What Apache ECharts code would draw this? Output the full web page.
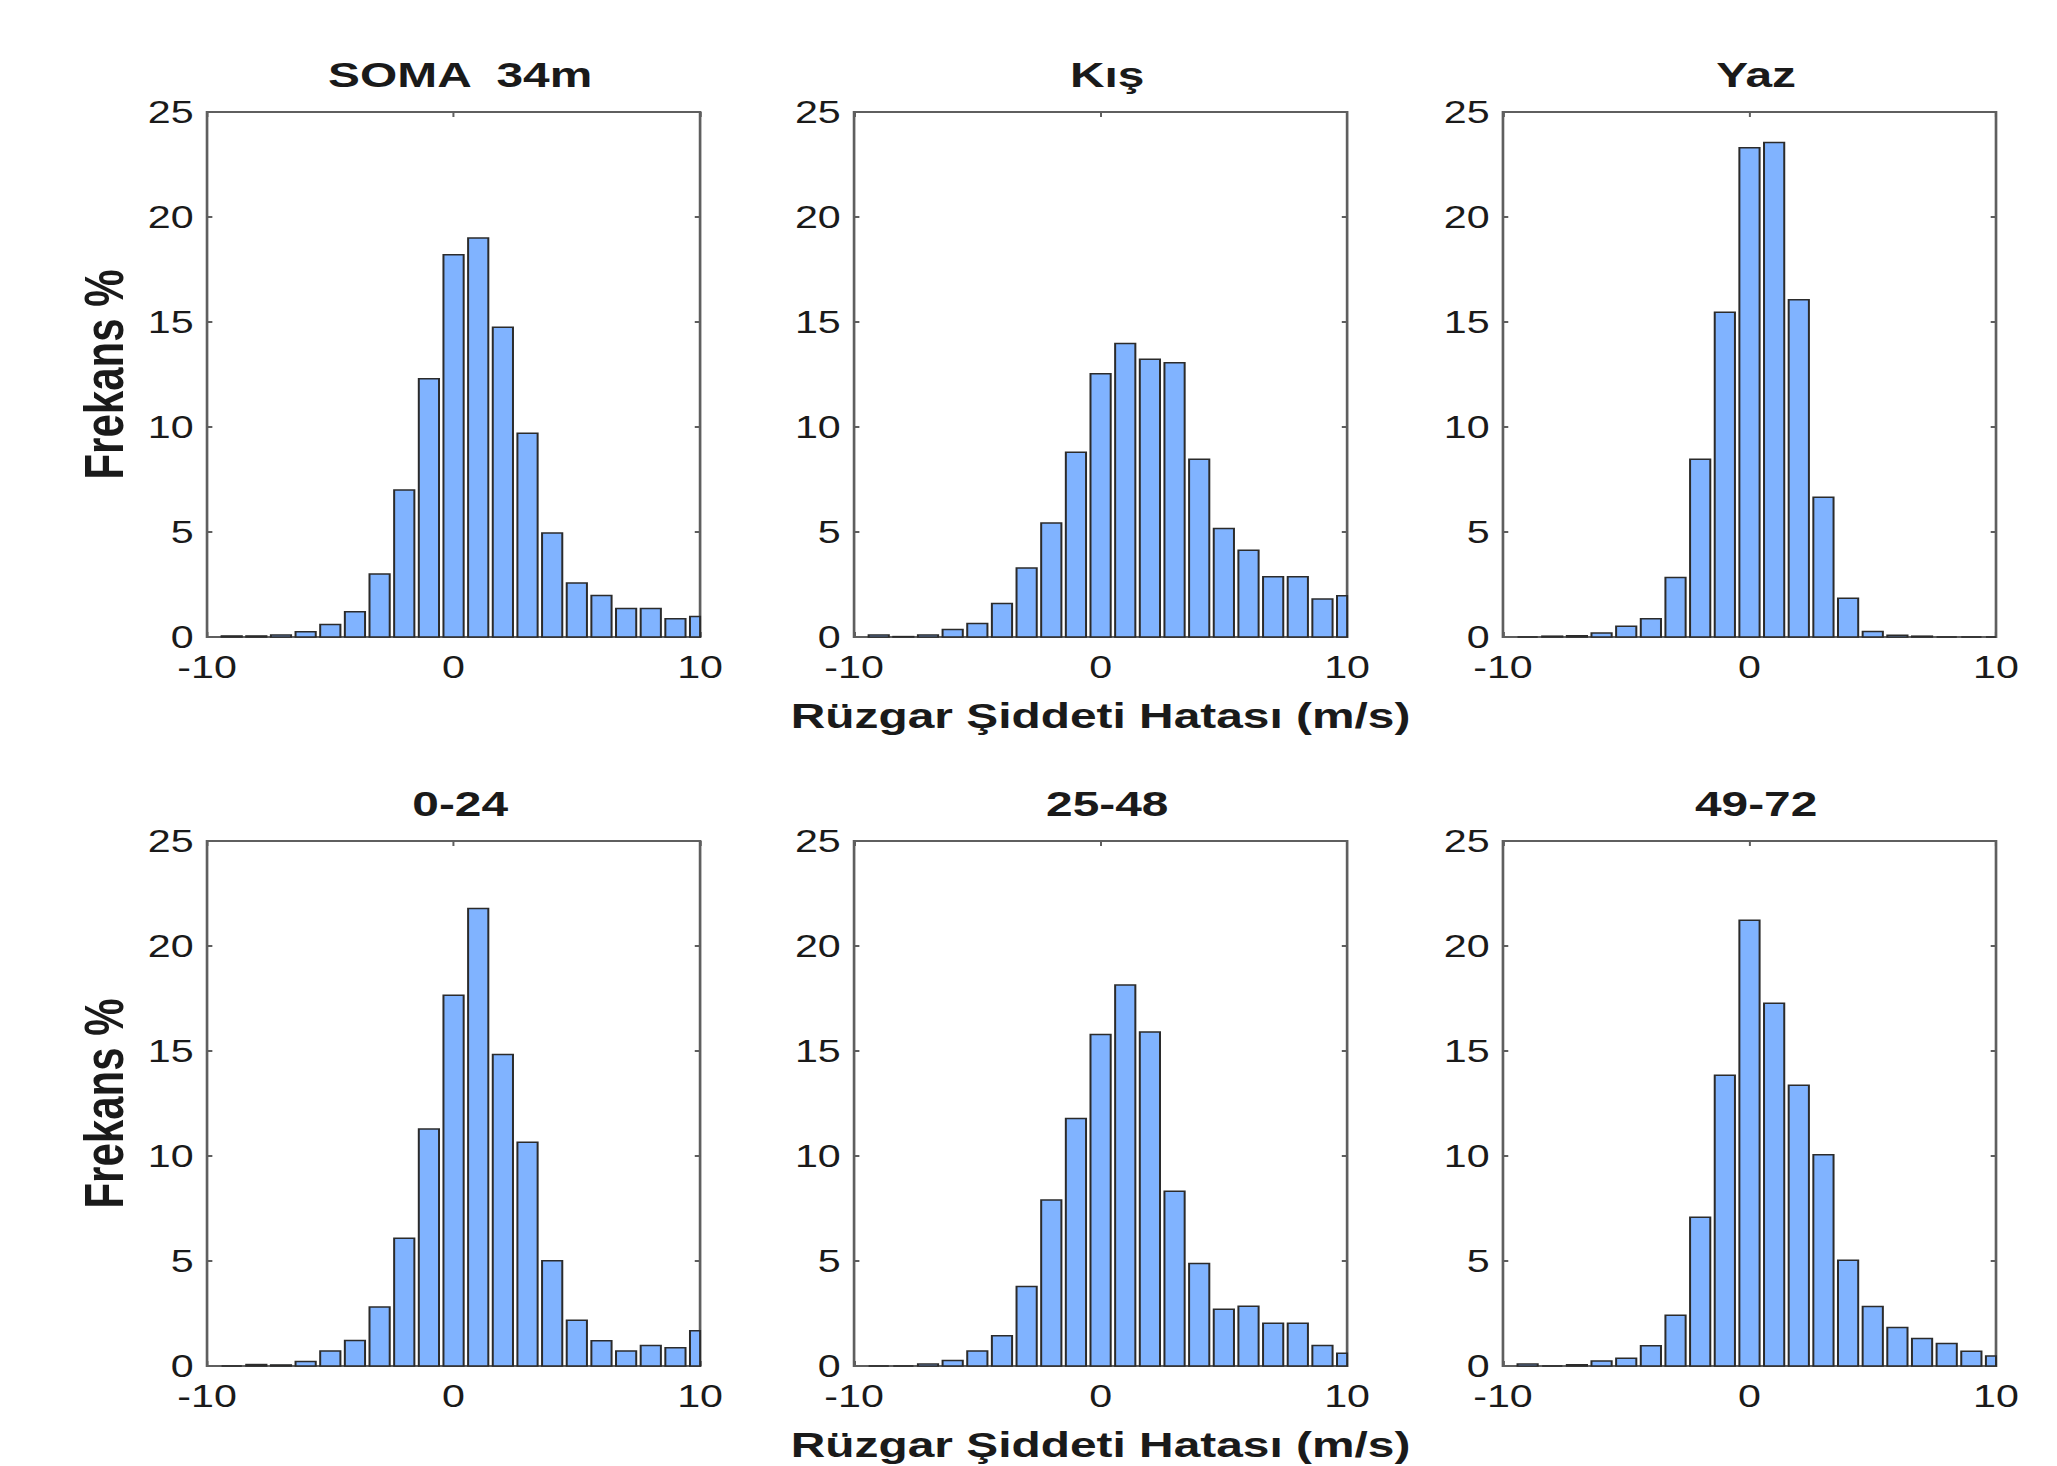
<!DOCTYPE html>
<html>
<head>
<meta charset="utf-8">
<title>Rüzgar Şiddeti Hatası</title>
<script src="https://cdn.jsdelivr.net/npm/echarts@6/dist/echarts.min.js"></script>
<style>
    html, body { margin: 0; padding: 0; background: #fff; overflow: hidden; }
    /* the original figure is stretched sideways, so draw narrower and widen it */
    #chart { width: 1547px; height: 1466px; transform: scaleX(1.3297); transform-origin: 0 0; }
</style>
</head>
<body>
<div id="chart"></div>
<script>
// bin centres (m/s)
const bins = [-9, -8, -7, -6, -5, -4, -3, -2, -1, 0, 1, 2, 3, 4, 5, 6, 7, 8, 9, 10]

// frequency % per bin
const soma34 = [0.05, 0.05, 0.1, 0.25, 0.6, 1.2, 3.0, 7.0, 12.3, 18.2, 19.0, 14.75, 9.7, 4.95, 2.57, 1.98, 1.36, 1.36, 0.87, 0.98]
const kis = [0.1, 0.02, 0.1, 0.36, 0.64, 1.6, 3.28, 5.43, 8.8, 12.53, 13.98, 13.23, 13.06, 8.47, 5.17, 4.13, 2.87, 2.87, 1.81, 1.96]
const yaz = [0, 0.04, 0.06, 0.19, 0.51, 0.87, 2.83, 8.47, 15.47, 23.3, 23.55, 16.06, 6.66, 1.85, 0.26, 0.08, 0.04, 0, 0, 0]
const h0_24 = [0, 0.07, 0.05, 0.22, 0.72, 1.22, 2.81, 6.08, 11.28, 17.66, 21.78, 14.83, 10.65, 5.01, 2.18, 1.2, 0.72, 0.98, 0.87, 1.68]
const h25_48 = [0, 0, 0.09, 0.26, 0.72, 1.44, 3.79, 7.9, 11.78, 15.79, 18.14, 15.9, 8.32, 4.88, 2.7, 2.85, 2.03, 2.03, 0.98, 0.61]
const h49_72 = [0.09, 0, 0.06, 0.24, 0.37, 0.96, 2.42, 7.08, 13.85, 21.23, 17.27, 13.37, 10.06, 5.03, 2.83, 1.83, 1.31, 1.07, 0.7, 0.48]

const titles = ['SOMA  34m', 'Kış', 'Yaz', '0-24', '25-48', '49-72']
const panels = [soma34, kis, yaz, h0_24, h25_48, h49_72]

// axis ranges / ticks
const xMin = -10, xMax = 10, xStep = 10
const yMin = 0, yMax = 25, yStep = 5

const yName = 'Frekans %'
const xName = 'Rüzgar Şiddeti Hatası (m/s)'

const FONT = "'Liberation Sans', Arial, sans-serif"
const lineColor = '#5f5f5f'
const textColor = '#1a1a1a'
const barFill = '#80b3ff'
const barEdge = '#2b2b2b'
const halfBar = 0.41

// grid boxes (in the un-stretched drawing)
const colLeft = [155.7, 642.3, 1130.3]
const rowTop = [112, 841]
const gw = 370.8, gh = 525

// histogram bar, clipped to the plot box like matlab does at x = 10
function renderBar(params, api) {
    const x = api.value(0), y = api.value(1)
    const p0 = api.coord([x - halfBar, y])
    const p1 = api.coord([x + halfBar, 0])
    const cs = params.coordSys
    const shape = echarts.graphic.clipRectByRect(
        { x: p0[0], y: p0[1], width: p1[0] - p0[0], height: p1[1] - p0[1] },
        { x: cs.x, y: cs.y, width: cs.width, height: cs.height }
    )
    return shape && {
        type: 'rect',
        shape: shape,
        style: { fill: barFill, stroke: barEdge, lineWidth: 1.5 }
    }
}

const grid = [], xAxis = [], yAxis = [], series = [], title = []

panels.forEach((vals, i) => {
    const row = Math.floor(i / 3), col = i % 3
    const left = colLeft[col], top = rowTop[row]

    grid.push({
        left: left, top: top, width: gw, height: gh,
        show: true, borderColor: lineColor, borderWidth: 2, backgroundColor: '#fff'
    })

    title.push({
        text: titles[i],
        left: left + gw / 2, top: top - 60, textAlign: 'center',
        textStyle: { fontFamily: FONT, fontSize: 36, fontWeight: 'bold', color: textColor }
    })

    const xTick = { inside: true, length: 5, lineStyle: { color: lineColor, width: 1.5 } }
    const yTick = { inside: true, length: 4, lineStyle: { color: lineColor, width: 2 } }

    // bottom x axis
    xAxis.push({
        type: 'value', gridIndex: i, min: xMin, max: xMax, interval: xStep,
        axisLine: { show: false, onZero: false },
        axisTick: xTick,
        splitLine: { show: false },
        axisLabel: { margin: 19, lineHeight: 22, fontFamily: FONT, fontSize: 31, color: textColor },
        name: col === 1 ? xName : '',
        nameLocation: 'middle', nameGap: 61,
        nameTextStyle: { fontFamily: FONT, fontSize: 36, fontWeight: 'bold', color: textColor }
    })
    // mirrored top ticks
    xAxis.push({
        type: 'value', gridIndex: i, position: 'top', min: xMin, max: xMax, interval: xStep,
        axisLine: { show: false, onZero: false }, axisTick: xTick,
        splitLine: { show: false }, axisLabel: { show: false }
    })

    yAxis.push({
        type: 'value', gridIndex: i, min: yMin, max: yMax, interval: yStep,
        axisLine: { show: false, onZero: false },
        axisTick: yTick,
        splitLine: { show: false },
        axisLabel: { margin: 10, lineHeight: 22, fontFamily: FONT, fontSize: 31, color: textColor },
        name: col === 0 ? yName : '',
        nameLocation: 'middle', nameGap: 57, nameRotate: 90,
        nameTextStyle: { fontFamily: FONT, fontSize: 42, fontWeight: 'bold', color: textColor }
    })
    // mirrored right ticks
    yAxis.push({
        type: 'value', gridIndex: i, position: 'right', min: yMin, max: yMax, interval: yStep,
        axisLine: { show: false, onZero: false }, axisTick: yTick,
        splitLine: { show: false }, axisLabel: { show: false }
    })

    series.push({
        type: 'custom',
        xAxisIndex: i * 2,
        yAxisIndex: i * 2,
        renderItem: renderBar,
        encode: { x: 0, y: 1 },
        data: bins.map((b, k) => [b, vals[k]])
    })
})

const option = {
    animation: false,
    backgroundColor: '#fff',
    title: title,
    grid: grid,
    xAxis: xAxis,
    yAxis: yAxis,
    series: series
}

const myChart = echarts.init(document.getElementById('chart'), null, { renderer: 'svg' })
myChart.setOption(option)
</script>
</body>
</html>
